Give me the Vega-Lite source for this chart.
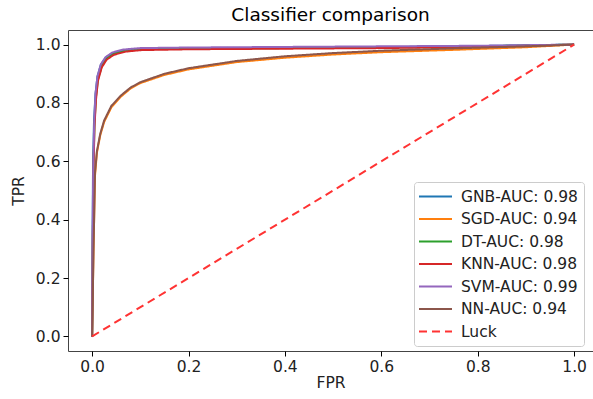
{
  "$schema": "https://vega.github.io/schema/vega-lite/v6.json",
  "autosize": {"type": "none"},
  "padding": {"left": 68, "top": 30, "right": 0, "bottom": 48},
  "width": 525,
  "height": 321,
  "background": "white",
  "title": {"text": "Classifier comparison", "font": "DejaVu Sans", "fontSize": 18.5, "fontWeight": "normal", "color": "black", "offset": 6},
  "config": {
    "view": {"stroke": "#444444", "strokeWidth": 1},
    "axis": {"grid": false, "domain": false, "tickColor": "black", "tickSize": 5, "labelFont": "DejaVu Sans", "labelFontSize": 15.5, "labelColor": "#222222", "titleFont": "DejaVu Sans", "titleFontSize": 15.5, "titleFontWeight": "normal", "titleColor": "#222222", "labelPadding": 3},
    "legend": {"labelFont": "DejaVu Sans", "labelFontSize": 15.5, "labelColor": "#222222"}
  },
  "datasets": {
    "roc": [
      {"m": "GNB-AUC: 0.98", "x": 0, "y": 0}, {"m": "GNB-AUC: 0.98", "x": 0.001, "y": 0.35}, {"m": "GNB-AUC: 0.98", "x": 0.002, "y": 0.6}, {"m": "GNB-AUC: 0.98", "x": 0.004, "y": 0.74}, {"m": "GNB-AUC: 0.98", "x": 0.007, "y": 0.83}, {"m": "GNB-AUC: 0.98", "x": 0.011, "y": 0.89}, {"m": "GNB-AUC: 0.98", "x": 0.018, "y": 0.93}, {"m": "GNB-AUC: 0.98", "x": 0.028, "y": 0.955}, {"m": "GNB-AUC: 0.98", "x": 0.042, "y": 0.97}, {"m": "GNB-AUC: 0.98", "x": 0.065, "y": 0.98}, {"m": "GNB-AUC: 0.98", "x": 0.1, "y": 0.985}, {"m": "GNB-AUC: 0.98", "x": 0.2, "y": 0.987}, {"m": "GNB-AUC: 0.98", "x": 0.4, "y": 0.989}, {"m": "GNB-AUC: 0.98", "x": 0.6, "y": 0.991}, {"m": "GNB-AUC: 0.98", "x": 0.8, "y": 0.995}, {"m": "GNB-AUC: 0.98", "x": 1, "y": 1},
      {"m": "SGD-AUC: 0.94", "x": 0, "y": 0}, {"m": "SGD-AUC: 0.94", "x": 0.003, "y": 0.3}, {"m": "SGD-AUC: 0.94", "x": 0.006, "y": 0.55}, {"m": "SGD-AUC: 0.94", "x": 0.01, "y": 0.63}, {"m": "SGD-AUC: 0.94", "x": 0.017, "y": 0.69}, {"m": "SGD-AUC: 0.94", "x": 0.025, "y": 0.735}, {"m": "SGD-AUC: 0.94", "x": 0.04, "y": 0.785}, {"m": "SGD-AUC: 0.94", "x": 0.06, "y": 0.822}, {"m": "SGD-AUC: 0.94", "x": 0.08, "y": 0.85}, {"m": "SGD-AUC: 0.94", "x": 0.1, "y": 0.868}, {"m": "SGD-AUC: 0.94", "x": 0.15, "y": 0.896}, {"m": "SGD-AUC: 0.94", "x": 0.2, "y": 0.915}, {"m": "SGD-AUC: 0.94", "x": 0.3, "y": 0.94}, {"m": "SGD-AUC: 0.94", "x": 0.4, "y": 0.955}, {"m": "SGD-AUC: 0.94", "x": 0.5, "y": 0.966}, {"m": "SGD-AUC: 0.94", "x": 0.6, "y": 0.974}, {"m": "SGD-AUC: 0.94", "x": 0.75, "y": 0.982}, {"m": "SGD-AUC: 0.94", "x": 0.9, "y": 0.991}, {"m": "SGD-AUC: 0.94", "x": 1, "y": 1},
      {"m": "DT-AUC: 0.98", "x": 0, "y": 0}, {"m": "DT-AUC: 0.98", "x": 0.0015, "y": 0.35}, {"m": "DT-AUC: 0.98", "x": 0.003, "y": 0.6}, {"m": "DT-AUC: 0.98", "x": 0.005, "y": 0.73}, {"m": "DT-AUC: 0.98", "x": 0.008, "y": 0.82}, {"m": "DT-AUC: 0.98", "x": 0.012, "y": 0.88}, {"m": "DT-AUC: 0.98", "x": 0.02, "y": 0.925}, {"m": "DT-AUC: 0.98", "x": 0.03, "y": 0.952}, {"m": "DT-AUC: 0.98", "x": 0.045, "y": 0.968}, {"m": "DT-AUC: 0.98", "x": 0.07, "y": 0.979}, {"m": "DT-AUC: 0.98", "x": 0.1, "y": 0.984}, {"m": "DT-AUC: 0.98", "x": 0.2, "y": 0.986}, {"m": "DT-AUC: 0.98", "x": 0.4, "y": 0.988}, {"m": "DT-AUC: 0.98", "x": 0.6, "y": 0.99}, {"m": "DT-AUC: 0.98", "x": 0.8, "y": 0.994}, {"m": "DT-AUC: 0.98", "x": 1, "y": 1},
      {"m": "KNN-AUC: 0.98", "x": 0, "y": 0}, {"m": "KNN-AUC: 0.98", "x": 0.0015, "y": 0.33}, {"m": "KNN-AUC: 0.98", "x": 0.003, "y": 0.58}, {"m": "KNN-AUC: 0.98", "x": 0.005, "y": 0.72}, {"m": "KNN-AUC: 0.98", "x": 0.008, "y": 0.81}, {"m": "KNN-AUC: 0.98", "x": 0.012, "y": 0.875}, {"m": "KNN-AUC: 0.98", "x": 0.02, "y": 0.922}, {"m": "KNN-AUC: 0.98", "x": 0.03, "y": 0.948}, {"m": "KNN-AUC: 0.98", "x": 0.045, "y": 0.965}, {"m": "KNN-AUC: 0.98", "x": 0.07, "y": 0.976}, {"m": "KNN-AUC: 0.98", "x": 0.1, "y": 0.981}, {"m": "KNN-AUC: 0.98", "x": 0.2, "y": 0.984}, {"m": "KNN-AUC: 0.98", "x": 0.4, "y": 0.986}, {"m": "KNN-AUC: 0.98", "x": 0.6, "y": 0.988}, {"m": "KNN-AUC: 0.98", "x": 0.8, "y": 0.992}, {"m": "KNN-AUC: 0.98", "x": 1, "y": 1},
      {"m": "SVM-AUC: 0.99", "x": 0, "y": 0}, {"m": "SVM-AUC: 0.99", "x": 0.001, "y": 0.35}, {"m": "SVM-AUC: 0.99", "x": 0.0025, "y": 0.6}, {"m": "SVM-AUC: 0.99", "x": 0.0045, "y": 0.74}, {"m": "SVM-AUC: 0.99", "x": 0.007, "y": 0.83}, {"m": "SVM-AUC: 0.99", "x": 0.011, "y": 0.89}, {"m": "SVM-AUC: 0.99", "x": 0.018, "y": 0.932}, {"m": "SVM-AUC: 0.99", "x": 0.028, "y": 0.957}, {"m": "SVM-AUC: 0.99", "x": 0.042, "y": 0.973}, {"m": "SVM-AUC: 0.99", "x": 0.065, "y": 0.983}, {"m": "SVM-AUC: 0.99", "x": 0.1, "y": 0.988}, {"m": "SVM-AUC: 0.99", "x": 0.2, "y": 0.99}, {"m": "SVM-AUC: 0.99", "x": 0.4, "y": 0.992}, {"m": "SVM-AUC: 0.99", "x": 0.6, "y": 0.994}, {"m": "SVM-AUC: 0.99", "x": 0.8, "y": 0.996}, {"m": "SVM-AUC: 0.99", "x": 1, "y": 1},
      {"m": "NN-AUC: 0.94", "x": 0, "y": 0}, {"m": "NN-AUC: 0.94", "x": 0.003, "y": 0.3}, {"m": "NN-AUC: 0.94", "x": 0.006, "y": 0.56}, {"m": "NN-AUC: 0.94", "x": 0.01, "y": 0.635}, {"m": "NN-AUC: 0.94", "x": 0.017, "y": 0.695}, {"m": "NN-AUC: 0.94", "x": 0.025, "y": 0.74}, {"m": "NN-AUC: 0.94", "x": 0.04, "y": 0.79}, {"m": "NN-AUC: 0.94", "x": 0.06, "y": 0.826}, {"m": "NN-AUC: 0.94", "x": 0.08, "y": 0.853}, {"m": "NN-AUC: 0.94", "x": 0.1, "y": 0.871}, {"m": "NN-AUC: 0.94", "x": 0.15, "y": 0.9}, {"m": "NN-AUC: 0.94", "x": 0.2, "y": 0.919}, {"m": "NN-AUC: 0.94", "x": 0.3, "y": 0.944}, {"m": "NN-AUC: 0.94", "x": 0.4, "y": 0.96}, {"m": "NN-AUC: 0.94", "x": 0.5, "y": 0.971}, {"m": "NN-AUC: 0.94", "x": 0.6, "y": 0.979}, {"m": "NN-AUC: 0.94", "x": 0.75, "y": 0.987}, {"m": "NN-AUC: 0.94", "x": 0.9, "y": 0.994}, {"m": "NN-AUC: 0.94", "x": 1, "y": 1}
    ],
    "luck": [
      {"m": "Luck", "x": 0, "y": 0}, {"m": "Luck", "x": 1, "y": 1}
    ]
  },
  "encoding": {
    "x": {"field": "x", "type": "quantitative", "title": "FPR", "scale": {"domain": [-0.05, 1.0392], "nice": false, "zero": false}, "axis": {"values": [0, 0.2, 0.4, 0.6, 0.8, 1.0], "format": ".1f", "titlePadding": 1}},
    "y": {"field": "y", "type": "quantitative", "title": "TPR", "scale": {"domain": [-0.05, 1.05], "nice": false, "zero": false}, "axis": {"values": [0, 0.2, 0.4, 0.6, 0.8, 1.0], "format": ".1f", "titlePadding": 9}},
    "color": {"field": "m", "type": "nominal", "title": null,
      "scale": {"domain": ["GNB-AUC: 0.98", "SGD-AUC: 0.94", "DT-AUC: 0.98", "KNN-AUC: 0.98", "SVM-AUC: 0.99", "NN-AUC: 0.94", "Luck"], "range": ["#1f77b4", "#ff7f0e", "#2ca02c", "#d62728", "#9467bd", "#8c564b", "#ff3333"]},
      "legend": {"orient": "none", "legendX": 346, "legendY": 152, "padding": 6, "strokeColor": "#cccccc", "fillColor": "white", "cornerRadius": 3, "symbolType": "M-2.2,0H2.2", "symbolSize": 225, "symbolOffset": 7, "symbolStrokeWidth": 2, "labelOffset": 17, "rowPadding": 5.5, "symbolOpacity": 1}},
    "strokeDash": {"field": "m", "type": "nominal", "title": null,
      "scale": {"domain": ["GNB-AUC: 0.98", "SGD-AUC: 0.94", "DT-AUC: 0.98", "KNN-AUC: 0.98", "SVM-AUC: 0.99", "NN-AUC: 0.94", "Luck"], "range": [[1, 0], [1, 0], [1, 0], [1, 0], [1, 0], [1, 0], [8, 5]]}}
  },
  "layer": [
    {"data": {"name": "roc"}, "mark": {"type": "line", "strokeWidth": 2, "clip": true}},
    {"data": {"name": "luck"}, "mark": {"type": "line", "strokeWidth": 2, "clip": true}}
  ]
}
